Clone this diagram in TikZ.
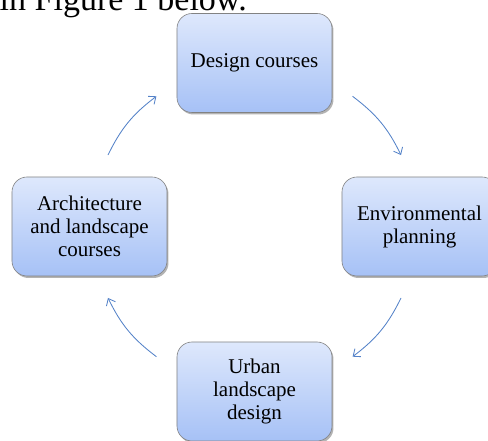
\documentclass[tikz,border=0pt]{standalone}
\usepackage{fontspec}
\setmainfont{Liberation Serif}
\usetikzlibrary{shadows,arrows.meta}

\definecolor{boxtop}{RGB}{222,232,252}
\definecolor{boxbottom}{RGB}{166,193,246}
\definecolor{boxline}{RGB}{130,130,130}
\definecolor{flowblue}{RGB}{84,130,200}

\begin{document}
\begin{tikzpicture}[x = 1pt, y = 1pt, font = \fontsize{21}{23}\selectfont,
        stage/.style = {draw = boxline, line width = 0.6pt, rounded corners = 15pt,
            top color = boxtop, bottom color = boxbottom,
            minimum width = 155pt, minimum height = 99pt, align = center, inner sep = 0pt,
            drop shadow = {shadow xshift = 1.5pt, shadow yshift = -2pt, fill = gray, opacity = 0.6}},
        flow/.style = {draw = flowblue, line width = 0.85pt, -{Straight Barb[length = 6pt, width = 10pt]}}]
        \useasboundingbox (-254.5,-214.5) rectangle (233.5,226.5);
        \clip (-254.5,-214.5) rectangle (233.5,226.5);

        \node[anchor = base west, inner sep = 0pt, font = \fontsize{34}{40}\selectfont] (intro) at (-255,216) {in Figure 1 below.};

        \node[stage] (design) at (0,163.5) {Design courses};
        \node[stage] (env) at (165,0) {Environmental\\planning};
        \node[stage] (urban) at (0,-165) {Urban\\landscape\\design};
        \node[stage] (arch) at (-165,0) {Architecture\\and landscape\\courses};

        \coordinate (a1s) at (154:163);
        \coordinate (a1e) at (127:163);
        \coordinate (a2s) at (53:163);
        \coordinate (a2e) at (26:163);
        \coordinate (a3s) at (-26:163);
        \coordinate (a3e) at (-53:163);
        \coordinate (a4s) at (-127:163);
        \coordinate (a4e) at (-154:163);

        \draw[flow] (a1s) to[bend left = 13.5] (a1e);
        \draw[flow] (a2s) to[bend left = 13.5] (a2e);
        \draw[flow] (a3s) to[bend left = 13.5] (a3e);
        \draw[flow] (a4s) to[bend left = 13.5] (a4e);
    \end{tikzpicture}
\end{document}
